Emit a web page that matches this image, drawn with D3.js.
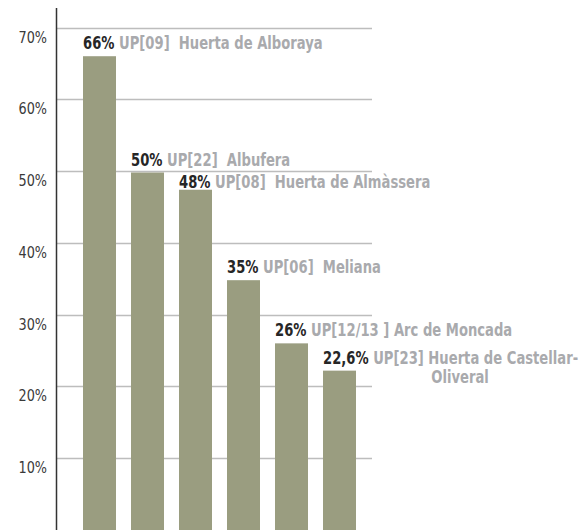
<!DOCTYPE html>
<html>
<head>
<meta charset="utf-8">
<script src="https://cdn.jsdelivr.net/npm/d3@7"></script>
<style>
    body { margin: 0; background: #fff; }
    text { font-family: "DejaVu Sans Condensed", "DejaVu Sans", sans-serif; white-space: pre; }
</style>
</head>
<body>
<script>
    var categories = ["UP[09]", "UP[22]", "UP[08]", "UP[06]", "UP[12/13 ]", "UP[23]"];
    var names = ["Huerta de Alboraya", "Albufera", "Huerta de Almàssera", "Meliana", "Arc de Moncada", "Huerta de Castellar-"];
    var values = [66, 49.8, 47.4, 34.8, 26, 22.2];   // altura de las barras
    var valueLabels = ["66%", "50%", "48%", "35%", "26%", "22,6%"];
    var yTicks = [10, 20, 30, 40, 50, 60, 70];

    var width = 586, height = 530;
    var squeeze = 0.86;   // simula una tipografía condensada

    var svg = d3.select("body")
        .append("svg")
        .attr("width", width)
        .attr("height", height);

    var yScale = d3.scaleLinear()
        .domain([0, 70])
        .range([530, 27.5]);

    var xScale = d3.scaleBand()
        .domain(categories)
        .range([83, 356])
        .paddingInner(0.3125)
        .paddingOuter(0);

    // líneas de cuadrícula
    svg.selectAll("line.grid")
        .data(yTicks)
        .enter()
        .append("line")
        .attr("class", "grid")
        .attr("x1", 56)
        .attr("x2", 372)
        .attr("y1", d => Math.round(yScale(d)) + 0.5)
        .attr("y2", d => Math.round(yScale(d)) + 0.5)
        .attr("stroke", "#bdbdbd")
        .attr("stroke-width", 1.5);

    // etiquetas del eje y
    svg.selectAll("g.tick")
        .data(yTicks)
        .enter()
        .append("g")
        .attr("class", "tick")
        .attr("transform", d => "translate(47," + (yScale(d) + 15) + ") scale(0.92,1)")
        .append("text")
        .text(d => d + "%")
        .attr("text-anchor", "end")
        .attr("fill", "#3a3a3a")
        .style("font-size", "15.5px");

    // barras
    svg.selectAll("rect")
        .data(values)
        .enter()
        .append("rect")
        .attr("x", (d, i) => xScale(categories[i]))
        .attr("y", d => yScale(d))
        .attr("width", xScale.bandwidth())
        .attr("height", d => yScale(0) - yScale(d))
        .attr("fill", "#9a9d80");

    // eje
    svg.append("line")
        .attr("x1", 56.5)
        .attr("x2", 56.5)
        .attr("y1", 8)
        .attr("y2", 530)
        .attr("stroke", "#333")
        .attr("stroke-width", 1.5);

    // posición vertical de los rótulos, sin solaparse
    var labelY = [];
    values.forEach((v, i) => {
        var y = yScale(v) - 7;
        if (i > 0 && y < labelY[i - 1] + 22) y = labelY[i - 1] + 22;
        labelY.push(y);
    });

    // rótulos de las barras
    var labels = svg.selectAll("g.bar-label")
        .data(values)
        .enter()
        .append("g")
        .attr("class", "bar-label")
        .attr("transform", (d, i) => "translate(" + xScale(categories[i]) + "," + labelY[i] + ") scale(" + squeeze + ",1)")
        .append("text")
        .style("font-size", "17px")
        .style("font-weight", "bold");

    labels.append("tspan")
        .text((d, i) => valueLabels[i])
        .attr("fill", "#262626");

    labels.append("tspan")
        .text((d, i) => " " + categories[i] + (i >= 4 ? " " : "  ") + names[i])
        .attr("fill", "#a9aaad");

    svg.append("g")
        .attr("transform", "translate(460," + (labelY[5] + 19.5) + ") scale(" + squeeze + ",1)")
        .append("text")
        .text("Oliveral")
        .attr("text-anchor", "middle")
        .attr("fill", "#a9aaad")
        .style("font-size", "17px")
        .style("font-weight", "bold");
</script>
</body>
</html>
